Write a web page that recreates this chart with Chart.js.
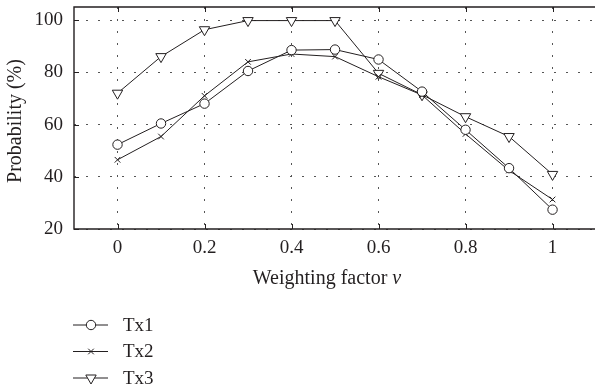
<!DOCTYPE html>
<html>
<head>
<meta charset="utf-8">
<script src="https://cdn.jsdelivr.net/npm/chart.js@4"></script>
<style>
  html, body { margin: 0; padding: 0; background: #fff; overflow: hidden; }
  #wrap { width: 600px; height: 390px; }
</style>
</head>
<body>
<div id="wrap"><canvas id="chart"></canvas></div>
<script>
// valori
const pesi = [0, 0.1, 0.2, 0.3, 0.4, 0.5, 0.6, 0.7, 0.8, 0.9, 1];
const tx1 = [52.3, 60.4, 68, 80.5, 88.5, 88.7, 84.9, 72.6, 58, 43.3, 27.4];
const tx2 = [46.5, 55.4, 71, 84, 87, 86, 78.3, 71.3, 56.4, 42.4, 31.3];
const tx3 = [72, 86, 96.3, 99.8, 99.8, 99.8, 79.6, 71.4, 63, 55.4, 40.9];
const nomi = ['Tx1', 'Tx2', 'Tx3'];
const xTicks = [0, 0.2, 0.4, 0.6, 0.8, 1];
const yTicks = [20, 40, 60, 80, 100];

const FONT = "'Liberation Serif', 'DejaVu Serif', serif";
const NERO = '#231f20';

function punti(valori) {
  return pesi.map((p, i) => ({ x: p, y: valori[i] }));
}

// disegna un simbolo per la legenda (cerchio, croce, triangolo)
function simbolo(ctx, tipo, x, y) {
  ctx.save();
  ctx.strokeStyle = NERO;
  ctx.fillStyle = '#fff';
  ctx.lineWidth = 1;
  ctx.beginPath();
  if (tipo == 'circle') {
    ctx.arc(x, y, 4.7, 0, Math.PI * 2);
    ctx.fill();
    ctx.stroke();
  } else if (tipo == 'crossRot') {
    ctx.moveTo(x - 2.8, y - 2.8); ctx.lineTo(x + 2.8, y + 2.8);
    ctx.moveTo(x + 2.8, y - 2.8); ctx.lineTo(x - 2.8, y + 2.8);
    ctx.stroke();
  } else {
    ctx.moveTo(x - 5.2, y - 3); ctx.lineTo(x + 5.2, y - 3); ctx.lineTo(x, y + 6);
    ctx.closePath();
    ctx.fill();
    ctx.stroke();
  }
  ctx.restore();
}

const stili = ['circle', 'crossRot', 'triangle'];

// cornice, tacche interne, titoli degli assi e legenda
const extra = {
  id: 'extra',
  afterDatasetsDraw(chart) {
    const ctx = chart.ctx;
    const a = chart.chartArea;
    const sx = chart.scales.x, sy = chart.scales.y;
    ctx.save();
    ctx.strokeStyle = NERO;
    ctx.lineWidth = 1.4;
    ctx.beginPath();
    ctx.moveTo(a.right + 2, a.top); ctx.lineTo(a.left, a.top);
    ctx.lineTo(a.left, a.bottom); ctx.lineTo(a.right + 2, a.bottom);
    ctx.stroke();
    ctx.lineWidth = 1;
    ctx.beginPath();
    xTicks.forEach(v => {
      const px = Math.round(sx.getPixelForValue(v)) + 0.5;
      ctx.moveTo(px, a.bottom); ctx.lineTo(px, a.bottom - 5);
      ctx.moveTo(px, a.top); ctx.lineTo(px, a.top + 5);
    });
    yTicks.forEach(v => {
      const py = Math.round(sy.getPixelForValue(v)) + 0.5;
      ctx.moveTo(a.left, py); ctx.lineTo(a.left + 5, py);
    });
    ctx.stroke();

    // titolo asse x
    ctx.fillStyle = NERO;
    ctx.textBaseline = 'middle';
    const t1 = 'Weighting factor ';
    ctx.font = "20px " + FONT;
    const w1 = ctx.measureText(t1).width;
    ctx.font = "italic 20px " + FONT;
    const w2 = ctx.measureText('ν').width;
    const x0 = 327 - (w1 + w2) / 2;
    ctx.font = "20px " + FONT;
    ctx.textAlign = 'left';
    ctx.fillText(t1, x0, 279);
    ctx.font = "italic 20px " + FONT;
    ctx.fillText('ν', x0 + w1, 279);

    // titolo asse y
    ctx.save();
    ctx.translate(16, 121);
    ctx.rotate(-Math.PI / 2);
    ctx.textAlign = 'center';
    ctx.font = "20px " + FONT;
    ctx.fillText('Probability (%)', 0, 0);
    ctx.restore();

    // legenda
    nomi.forEach((n, i) => {
      const y = 325 + i * 26.5;
      ctx.lineWidth = 1;
      ctx.beginPath();
      ctx.moveTo(73, y); ctx.lineTo(108, y);
      ctx.stroke();
      simbolo(ctx, stili[i], 91, y);
      ctx.font = "19px " + FONT;
      ctx.textAlign = 'left';
      ctx.fillText(n, 123, y + 1);
    });
    ctx.restore();
  }
};

const serie = [tx1, tx2, tx3];
new Chart(document.getElementById('chart').getContext('2d'), {
  type: 'line',
  plugins: [extra],
  data: {
    datasets: serie.map((s, i) => ({
      label: nomi[i],
      data: punti(s),
      borderColor: NERO,
      borderWidth: 1,
      backgroundColor: '#fff',
      pointStyle: stili[i],
      pointRotation: i == 2 ? 180 : 0,
      pointRadius: i == 0 ? 4.7 : (i == 1 ? 4 : 6),
      pointBorderWidth: 1,
      pointBorderColor: NERO,
      pointBackgroundColor: '#fff',
      tension: 0
    }))
  },
  options: {
    responsive: true,
    maintainAspectRatio: false,
    animation: false,
    layout: { padding: { left: 0, right: 0, top: 7, bottom: 0 } },
    plugins: { legend: { display: false }, tooltip: { enabled: false } },
    scales: {
      x: {
        type: 'linear',
        min: -0.1,
        max: 1.093,
        afterBuildTicks: s => { s.ticks = xTicks.map(v => ({ value: v })); },
        afterFit: s => { s.height = 161; s.paddingLeft = 0; s.paddingRight = 0; },
        grid: { color: '#555', drawTicks: false, lineWidth: 1 },
        border: { display: false, dash: [2, 10] },
        ticks: { color: NERO, padding: 8, maxRotation: 0, font: { family: FONT, size: 19 },
          callback: v => String(v) }
      },
      y: {
        min: 20,
        max: 105,
        afterBuildTicks: s => { s.ticks = yTicks.map(v => ({ value: v })); },
        afterFit: s => { s.width = 74; s.paddingTop = 0; s.paddingBottom = 0; },
        grid: { color: '#555', drawTicks: false, lineWidth: 1 },
        border: { display: false, dash: [2, 10] },
        ticks: { color: NERO, padding: 11, font: { family: FONT, size: 19 } }
      }
    }
  }
});
</script>
</body>
</html>
